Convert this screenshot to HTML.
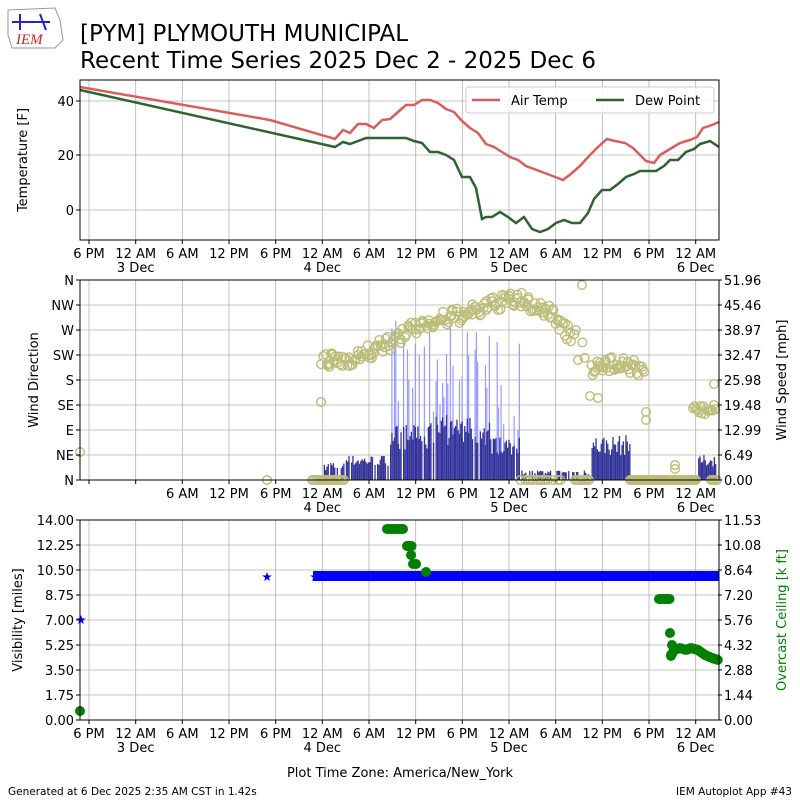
<!DOCTYPE html>
<html><head><meta charset="utf-8"><style>
body{margin:0;background:#fff;width:800px;height:800px;overflow:hidden}
svg{font-family:"DejaVu Sans","Liberation Sans",sans-serif}
</style></head><body>
<svg id="s" width="800" height="800" xmlns="http://www.w3.org/2000/svg">
<g id="logo">
<path d="M8 10 L55 8 L60 20 L63 40 L55 48 L12 48 L8 35 Z" fill="#fff" stroke="#999" stroke-width="1"/>
<text x="16" y="44" font-family="Liberation Serif,serif" font-style="italic" font-size="15" fill="#c22">IEM</text>
<path d="M12 22 L50 22 M20 14 L20 30 M40 14 L46 30" stroke="#22c" stroke-width="2" fill="none"/>
</g>
<text x="80" y="41" font-size="23">[PYM] PLYMOUTH MUNICIPAL</text>
<text x="80" y="68" font-size="23">Recent Time Series 2025 Dec 2 - 2025 Dec 6</text>
<g id="g"></g>
<text x="400" y="777" font-size="13" text-anchor="middle">Plot Time Zone: America/New_York</text>
<text x="8" y="795" font-size="10.5">Generated at 6 Dec 2025 2:35 AM CST in 1.42s</text>
<text x="792" y="795" font-size="10.5" text-anchor="end">IEM Autoplot App #43</text>
</svg>
<script>
var g=document.getElementById('g'),h='';
var seed=7;function r(){seed=(seed*16807)%2147483647;return seed/2147483647;}
var GX=[89,135.7,182.3,229,275.7,322.3,369,415.7,462.3,509,555.7,602.3,649,695.7];
var TL=['6 PM','12 AM','6 AM','12 PM','6 PM','12 AM','6 AM','12 PM','6 PM','12 AM','6 AM','12 PM','6 PM','12 AM'];
var DL={1:'3 Dec',5:'4 Dec',9:'5 Dec',13:'6 Dec'};
function panel(y0,y1,yt,skip){
 for(var i=0;i<GX.length;i++){h+='<line x1="'+GX[i]+'" x2="'+GX[i]+'" y1="'+y0+'" y2="'+y1+'" stroke="#b0b0b0" stroke-width="0.8"/>';
 h+='<line x1="'+GX[i]+'" x2="'+GX[i]+'" y1="'+y1+'" y2="'+(y1+4)+'" stroke="#000"/>';
 if(i>=skip){h+='<text x="'+GX[i]+'" y="'+(y1+18)+'" font-size="13" text-anchor="middle">'+TL[i]+'</text>';
 if(DL[i])h+='<text x="'+GX[i]+'" y="'+(y1+32)+'" font-size="13" text-anchor="middle">'+DL[i]+'</text>';}}
 for(var j=0;j<yt.length;j++){h+='<line x1="80" x2="719" y1="'+yt[j]+'" y2="'+yt[j]+'" stroke="#b0b0b0" stroke-width="0.8"/>';}
}
function frame(y0,y1){h+='<rect x="80" y="'+y0+'" width="639" height="'+(y1-y0)+'" fill="none" stroke="#000" stroke-width="1"/>';}
function ylab(x,y,t,anchor,c){h+='<line x1="'+(anchor=='end'?x+2:x-6)+'" x2="'+(anchor=='end'?x+6:x-2)+'" y1="'+y+'" y2="'+y+'" stroke="#000"/><text x="'+x+'" y="'+(y+5)+'" font-size="13" text-anchor="'+anchor+'" fill="'+(c||'#000')+'">'+t+'</text>';}
// Panel 1
panel(80,240,[101,155,210],0);
var air=[[80,87],[270,120],[335,139],[343,130],[350,133],[358,124],[366,124],[374,128],[382,120],[390,119],[398,112],[406,105],[414,105],[422,100],[430,100],[438,103],[446,109],[454,112],[462,121],[470,128],[478,133],[486,144],[494,147],[502,152],[510,157],[518,160],[526,166],[534,169],[542,172],[550,175],[563,180],[572,173],[580,166],[590,155],[598,147],[607,139],[615,141],[625,143],[633,148],[640,155],[646,161],[654,163],[660,155],[670,149],[680,143],[690,140],[697,137],[703,128],[712,125],[719,122]];
var dew=[[80,90],[335,147],[343,142],[350,144],[358,141],[366,138],[406,138],[414,141],[422,143],[430,152],[438,152],[446,155],[454,160],[462,177],[470,177],[476,188],[482,219],[486,217],[492,217],[500,212],[508,217],[516,223],[524,217],[532,229],[540,232],[548,229],[556,223],[564,220],[572,223],[580,223],[588,213],[594,199],[602,190],[610,190],[618,184],[626,177],[634,174],[640,171],[656,171],[664,166],[670,160],[678,160],[686,152],[694,149],[700,144],[710,141],[719,147]];
function pl(a,c){h+='<polyline points="'+a.map(function(p){return p.join(',')}).join(' ')+'" fill="none" stroke="'+c+'" stroke-width="2.5"/>';}
pl(air,'#dc5c5c');pl(dew,'#2e6330');
frame(80,240);
ylab(74,101,'40','end');ylab(74,155,'20','end');ylab(74,210,'0','end');
h+='<text transform="translate(27,160) rotate(-90)" font-size="13" text-anchor="middle">Temperature [F]</text>';
h+='<rect x="466" y="87" width="248" height="26" fill="#fff" fill-opacity="0.85" stroke="#ccc" rx="3"/>';
h+='<line x1="472" x2="500" y1="100" y2="100" stroke="#dc5c5c" stroke-width="2.5"/><text x="511" y="105" font-size="13">Air Temp</text>';
h+='<line x1="596" x2="624" y1="100" y2="100" stroke="#2e6330" stroke-width="2.5"/><text x="635" y="105" font-size="13">Dew Point</text>';
// Panel 2
var dirs=['N','NE','E','SE','S','SW','W','NW','N'];
var yt2=[];for(var k=0;k<9;k++)yt2.push(480-25*k);
panel(280,480,yt2,2);
var seg=[[312,322,0.3,0],[322,345,3.5,0],[345,390,5,0],[390,430,11,0.25],[430,470,13,0.55],[470,490,12,0.35],[490,520,9,0.15],[520,560,2,0],[560,590,2,0],[590,630,9,0],[630,697,0.5,0],[697,716,5,0]];
var ms=200/51.96;
for(var x=312;x<718;x+=1.3){var s=null;for(var q=0;q<seg.length;q++)if(x>=seg[q][0]&&x<seg[q][1])s=seg[q];if(!s)continue;
 if(r()<(s[2]<4?0.35:0.08))continue;
 var v=s[2]*(0.7+0.6*r());
 if(s[3]&&r()<s[3]){var gu=v+6+r()*24;h+='<rect x="'+x.toFixed(1)+'" y="'+(480-gu*ms).toFixed(1)+'" width="1.2" height="'+(gu*ms).toFixed(1)+'" fill="#9999ff"/>';}
 h+='<rect x="'+x.toFixed(1)+'" y="'+(480-v*ms).toFixed(1)+'" width="1.3" height="'+(v*ms).toFixed(1)+'" fill="#333399"/>';}
function c2(x,y){h+='<circle cx="'+x.toFixed(1)+'" cy="'+y.toFixed(1)+'" r="4.3" fill="none" stroke="#bdbd7a" stroke-width="1.4"/>';}
var dp=[[322,362],[345,360],[370,352],[390,343],[420,325],[450,318],[480,310],[500,302],[520,300],[540,308],[555,315],[565,330],[578,340],[590,368],[605,368],[620,360],[635,368],[645,372]];
function interp(x){for(var i=0;i<dp.length-1;i++)if(x>=dp[i][0]&&x<=dp[i+1][0]){var t=(x-dp[i][0])/(dp[i+1][0]-dp[i][0]);return dp[i][1]+t*(dp[i+1][1]-dp[i][1]);}return null;}
for(var x=322;x<646;x+=1.4){var y=interp(x);if(y===null)continue;if(x>=572&&x<590&&r()<0.7)continue;c2(x+r()*2-1,y+(r()-0.5)*16);}
[[80,452],[267,480],[321,402],[582,285],[646,412],[646,420],[590,396],[598,398],[578,360],[606,362],[714,384]].forEach(function(p){c2(p[0],p[1]);});
for(var x=693;x<717;x+=1.5)c2(x,410+(r()-0.5)*10);
for(var x=312;x<346;x+=2)c2(x,480);
for(var x=518;x<566;x+=2.5)if(r()<0.5)c2(x,480);
for(var x=575;x<590;x+=2)c2(x,480);
for(var x=630;x<697;x+=1.5)c2(x,480);
for(var x=711;x<718;x+=2)c2(x,480);
c2(675,465);c2(675,469);
frame(280,480);
var wl=['0.00','6.49','12.99','19.48','25.98','32.47','38.97','45.46','51.96'];
for(var k=0;k<9;k++){ylab(74,480-25*k,dirs[k],'end');ylab(724,480-25*k,wl[k],'start');}
h+='<text transform="translate(38,380) rotate(-90)" font-size="13" text-anchor="middle">Wind Direction</text>';
h+='<text transform="translate(786,380) rotate(-90)" font-size="13" text-anchor="middle">Wind Speed [mph]</text>';
// Panel 3
var yt3=[];for(var k=0;k<9;k++)yt3.push(720-25*k);
panel(520,720,yt3,0);
h+='<rect x="313" y="571" width="406" height="10" fill="#0000ff"/>';
function star(x,y){var p=[];for(var i=0;i<10;i++){var a=-Math.PI/2+i*Math.PI/5,rr=i%2?2:5;p.push((x+rr*Math.cos(a)).toFixed(1)+','+(y+rr*Math.sin(a)).toFixed(1));}h+='<polygon points="'+p.join(' ')+'" fill="#0000ff"/>';}
star(81,620);star(267,577);star(315,577);
function gd(x,y){h+='<circle cx="'+x+'" cy="'+y+'" r="5" fill="#008000"/>';}
gd(80,711);
for(var x=387;x<404;x+=2)gd(x,529);
for(var x=407;x<413;x+=1.5)gd(x,546);gd(411,555);gd(413,564);gd(416,564);gd(426,572);
for(var x=659;x<670;x+=1.5)gd(x,599);gd(670,633);
var cl=[[671,656],[674,650],[680,648],[686,650],[691,648],[698,650],[705,655],[712,658],[718,660]];
for(var x=671;x<719;x+=1.2){var y=0;for(var i=0;i<cl.length-1;i++)if(x>=cl[i][0]&&x<=cl[i+1][0])y=cl[i][1]+(x-cl[i][0])/(cl[i+1][0]-cl[i][0])*(cl[i+1][1]-cl[i][1]);gd(x.toFixed(1),y.toFixed(1));}
gd(671,655);gd(672,645);
frame(520,720);
var vl=['0.00','1.75','3.50','5.25','7.00','8.75','10.50','12.25','14.00'];
var cl2=['0.00','1.44','2.88','4.32','5.76','7.20','8.64','10.08','11.53'];
for(var k=0;k<9;k++){ylab(74,720-25*k,vl[k],'end');ylab(724,720-25*k,cl2[k],'start');}
h+='<text transform="translate(22,620) rotate(-90)" font-size="13" text-anchor="middle">Visibility [miles]</text>';
h+='<text transform="translate(786,620) rotate(-90)" font-size="13" text-anchor="middle" fill="#008000">Overcast Ceiling [k ft]</text>';
g.innerHTML=h;
</script>
</body></html>
